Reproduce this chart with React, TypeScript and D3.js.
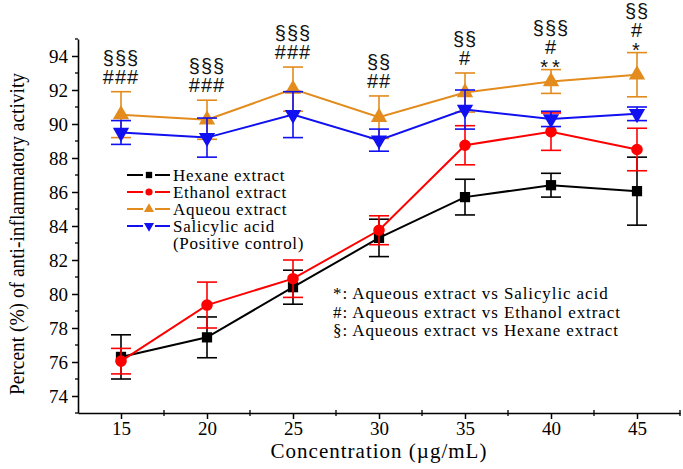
import * as d3 from 'd3';
import { useEffect, useRef } from 'react';

// concentrations (µg/mL)
const concentrations = [15, 20, 25, 30, 35, 40, 45];

const hexane = [76.3, 77.45, 80.4, 83.3, 85.7, 86.4, 86.05];
const hexaneErr = [1.3, 1.2, 1.0, 1.1, 1.05, 0.7, 2.0];

const ethanol = [76.05, 79.35, 80.9, 83.75, 88.75, 89.55, 88.5];
const ethanolErr = [0.75, 1.35, 1.1, 0.85, 1.15, 1.1, 1.25];

const aqueous = [90.55, 90.25, 92.05, 90.4, 91.85, 92.5, 92.9];
const aqueousErr = [1.35, 1.15, 1.3, 1.25, 1.15, 0.7, 1.3];

const salicylic = [89.5, 89.2, 90.55, 89.05, 90.85, 90.3, 90.6];
const salicylicErr = [0.7, 1.15, 1.35, 0.65, 1.15, 0.45, 0.4];

// significance marks above the aqueous bars, listed top to bottom
const marks = [
  ['§§§', '###'],
  ['§§§', '###'],
  ['§§§', '###'],
  ['§§', '##'],
  ['§§', '#'],
  ['§§§', '#', '**'],
  ['§§', '#', '*'],
];

const legendLabels = ['Hexane extract', 'Ethanol extract', 'Aqueou extract', 'Salicylic acid'];
const notes = [
  '*: Aqueous extract vs Salicylic acid',
  '#: Aqueous extract vs Ethanol extract',
  '§: Aqueous extract vs Hexane extract',
];

const xTicks = [15, 20, 25, 30, 35, 40, 45];
const xMinor = [17.5, 22.5, 27.5, 32.5, 37.5, 42.5, 47.5];
const yTicks = [74, 76, 78, 80, 82, 84, 86, 88, 90, 92, 94];
const yMinor = [73, 75, 77, 79, 81, 83, 85, 87, 89, 91, 93, 95];

type Shape = 'square' | 'circle' | 'up' | 'down';

const series: Array<{ values: number[]; err: number[]; color: string; shape: Shape }> = [
  { values: hexane, err: hexaneErr, color: '#000000', shape: 'square' },
  { values: ethanol, err: ethanolErr, color: '#ff0000', shape: 'circle' },
  { values: aqueous, err: aqueousErr, color: '#e38b1c', shape: 'up' },
  { values: salicylic, err: salicylicErr, color: '#1010f0', shape: 'down' },
];

const serif = '"Liberation Serif", "Times New Roman", serif';
const sans = '"Liberation Sans", Arial, sans-serif';

export default function App() {
  const width = 683;
  const height = 469;
  const marginLeft = 78;
  const marginRight = 3;
  const marginTop = 39;
  const marginBottom = 56;

  const ref = useRef<HTMLDivElement>(null);

  const x = d3
    .scaleLinear()
    .domain([12.5, 47.5])
    .range([marginLeft, width - marginRight]);

  const y = d3
    .scaleLinear()
    .domain([73, 95])
    .range([height - marginBottom, marginTop]);

  useEffect(() => {
    if (!ref.current) return;

    const svg = d3
      .create('svg')
      .attr('width', width)
      .attr('height', height)
      .style('position', 'absolute')
      .style('left', '0px')
      .style('top', '0px')
      .style('background', '#fff');

    const symbolFor = (shape: Shape, size: number) => {
      if (shape === 'square') return d3.symbol(d3.symbolSquare, size)();
      if (shape === 'circle') return d3.symbol(d3.symbolCircle, size)();
      return d3.symbol(d3.symbolTriangle, size * 1.1)();
    };

    // axes
    const xAxis = svg.append('g').attr('transform', `translate(0,${height - marginBottom})`);
    xAxis
      .call(d3.axisBottom(x).tickValues(xTicks).tickSize(6).tickSizeOuter(0).tickPadding(3))
      .call((g) => g.select('.domain').attr('stroke-width', 1.6))
      .call((g) => g.selectAll('.tick line').attr('stroke-width', 1.5))
      .call((g) =>
        g.selectAll('.tick text').attr('font-family', serif).attr('font-size', 19).attr('fill', '#000')
      );
    xAxis
      .selectAll('.minor')
      .data(xMinor)
      .join('line')
      .attr('x1', (d) => x(d))
      .attr('x2', (d) => x(d))
      .attr('y1', -3)
      .attr('y2', 3)
      .attr('stroke', '#000')
      .attr('stroke-width', 1.3);

    const yAxis = svg.append('g').attr('transform', `translate(${marginLeft},0)`);
    yAxis
      .call(d3.axisLeft(y).tickValues(yTicks).tickSize(6).tickSizeOuter(0).tickPadding(4))
      .call((g) => g.select('.domain').attr('stroke-width', 1.6))
      .call((g) => g.selectAll('.tick line').attr('stroke-width', 1.5))
      .call((g) =>
        g.selectAll('.tick text').attr('font-family', serif).attr('font-size', 19).attr('fill', '#000')
      );
    yAxis
      .selectAll('.minor')
      .data(yMinor)
      .join('line')
      .attr('x1', -3)
      .attr('x2', 0)
      .attr('y1', (d) => y(d))
      .attr('y2', (d) => y(d))
      .attr('stroke', '#000')
      .attr('stroke-width', 1.3);

    // axis titles
    svg
      .append('text')
      .attr('x', (marginLeft + width - marginRight) / 2)
      .attr('y', 458)
      .attr('text-anchor', 'middle')
      .attr('font-family', serif)
      .attr('font-size', 21)
      .attr('letter-spacing', 1)
      .text('Concentration (µg/mL)');

    svg
      .append('text')
      .attr('transform', `translate(24,${(marginTop + height - marginBottom) / 2 + 8}) rotate(-90)`)
      .attr('text-anchor', 'middle')
      .attr('font-family', serif)
      .attr('font-size', 20)
      .attr('textLength', 322)
      .attr('lengthAdjust', 'spacingAndGlyphs')
      .text('Percent (%) of anti-inflammatory activity');

    // series: lines, error bars, markers
    const cap = 10;
    series.forEach((s) => {
      const pts = concentrations.map((c, i) => ({ c, v: s.values[i], e: s.err[i] }));
      const line = d3
        .line<{ c: number; v: number }>()
        .x((d) => x(d.c))
        .y((d) => y(d.v));

      svg
        .append('path')
        .datum(pts)
        .attr('fill', 'none')
        .attr('stroke', s.color)
        .attr('stroke-width', 2)
        .attr('d', line);

      const eb = svg.append('g').attr('stroke', s.color).attr('stroke-width', 1.6);
      eb.selectAll('.v')
        .data(pts)
        .join('line')
        .attr('x1', (d) => x(d.c))
        .attr('x2', (d) => x(d.c))
        .attr('y1', (d) => y(d.v + d.e))
        .attr('y2', (d) => y(d.v - d.e));
      eb.selectAll('.top')
        .data(pts)
        .join('line')
        .attr('x1', (d) => x(d.c) - cap)
        .attr('x2', (d) => x(d.c) + cap)
        .attr('y1', (d) => y(d.v + d.e))
        .attr('y2', (d) => y(d.v + d.e));
      eb.selectAll('.bottom')
        .data(pts)
        .join('line')
        .attr('x1', (d) => x(d.c) - cap)
        .attr('x2', (d) => x(d.c) + cap)
        .attr('y1', (d) => y(d.v - d.e))
        .attr('y2', (d) => y(d.v - d.e));

      svg
        .append('g')
        .selectAll('path')
        .data(pts)
        .join('path')
        .attr('d', symbolFor(s.shape, 105))
        .attr('fill', s.color)
        .attr(
          'transform',
          (d) => `translate(${x(d.c)},${y(d.v)})${s.shape === 'down' ? ' rotate(180)' : ''}`
        );
    });

    // significance marks
    const mk = svg
      .append('g')
      .attr('font-family', sans)
      .attr('font-size', 20)
      .attr('text-anchor', 'middle')
      .attr('fill', '#111');
    marks.forEach((lines, i) => {
      const top = y(aqueous[i] + aqueousErr[i]);
      let cursor = top - 8;
      for (let j = lines.length - 1; j >= 0; j--) {
        const t = lines[j];
        const star = t.startsWith('*');
        mk.append('text')
          .attr('x', x(concentrations[i]) + (star ? 1 : 0))
          .attr('y', star ? cursor + 12 : cursor)
          .attr('letter-spacing', star ? 4 : 1)
          .text(t);
        cursor -= star ? 8 : 19;
      }
    });

    // legend
    const lg = svg.append('g').attr('transform', 'translate(127,175)');
    series.forEach((s, i) => {
      const row = lg.append('g').attr('transform', `translate(0,${i * 17})`);
      row
        .append('line')
        .attr('x1', 0)
        .attr('x2', 16)
        .attr('stroke', s.color)
        .attr('stroke-width', 2);
      row
        .append('line')
        .attr('x1', 28)
        .attr('x2', 43)
        .attr('stroke', s.color)
        .attr('stroke-width', 2);
      row
        .append('path')
        .attr('d', symbolFor(s.shape, 40))
        .attr('fill', s.color)
        .attr('transform', `translate(22,0)${s.shape === 'down' ? ' rotate(180)' : ''}`);
      row
        .append('text')
        .attr('x', 46)
        .attr('y', 6)
        .attr('font-family', serif)
        .attr('font-size', 17)
        .attr('letter-spacing', 0.7)
        .text(legendLabels[i]);
    });
    lg.append('text')
      .attr('x', 46)
      .attr('y', 4 * 17 + 6)
      .attr('font-family', serif)
      .attr('font-size', 17)
      .attr('letter-spacing', 0.7)
      .text('(Positive control)');

    // notes
    const nt = svg
      .append('g')
      .attr('font-family', serif)
      .attr('font-size', 17)
      .attr('letter-spacing', 0.9);
    notes.forEach((t, i) => {
      nt.append('text')
        .attr('x', 333)
        .attr('y', 299 + i * 18.5)
        .text(t);
    });

    ref.current.innerHTML = '';
    ref.current.appendChild(svg.node()!);
  }, [ref]);

  return <div ref={ref} />;
}
